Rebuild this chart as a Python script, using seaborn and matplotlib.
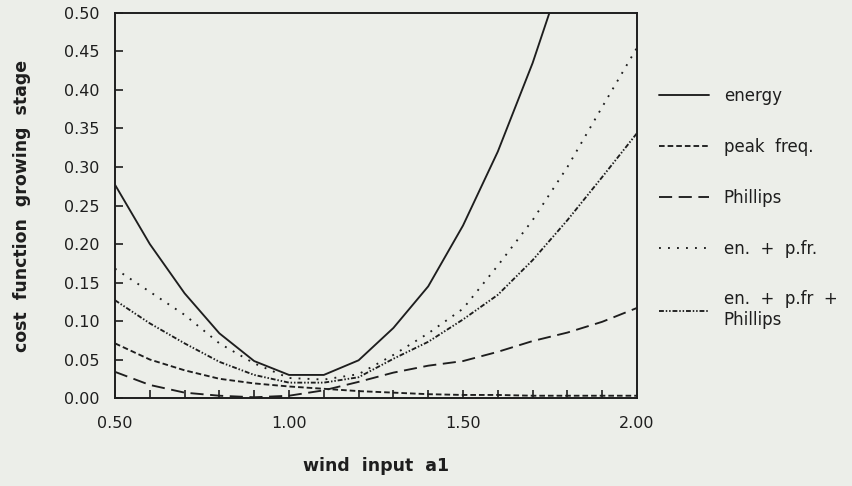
import numpy as np
import pandas as pd
import matplotlib
matplotlib.use("Agg")
import matplotlib.pyplot as plt
import seaborn as sns
from matplotlib.ticker import MultipleLocator

# wind input parameter a1
a1 = [0.5, 0.6, 0.7, 0.8, 0.9, 1.0, 1.1, 1.2, 1.3, 1.4, 1.5, 1.6, 1.7, 1.8, 1.9, 2.0]

# cost function values in the growing stage
energy = [0.277, 0.200, 0.136, 0.084, 0.048, 0.030, 0.030, 0.049, 0.091, 0.145,
          0.224, 0.320, 0.435, 0.570, np.nan, np.nan]
peak_freq = [0.071, 0.050, 0.036, 0.025, 0.019, 0.015, 0.012, 0.009, 0.007, 0.005,
             0.004, 0.004, 0.003, 0.003, 0.003, 0.003]
phillips = [0.034, 0.017, 0.007, 0.003, 0.001, 0.003, 0.010, 0.021, 0.033, 0.042,
            0.048, 0.060, 0.074, 0.085, 0.099, 0.117]
en_pfr = [0.168, 0.138, 0.108, 0.071, 0.045, 0.026, 0.024, 0.031, 0.056, 0.084,
          0.116, 0.172, 0.231, 0.300, 0.378, 0.455]
en_pfr_ph = [0.127, 0.097, 0.071, 0.047, 0.030, 0.020, 0.020, 0.027, 0.051, 0.073,
             0.102, 0.134, 0.179, 0.231, 0.287, 0.344]

labels = ["energy", "peak  freq.", "Phillips", "en.  +  p.fr.", "en.  +  p.fr  +\nPhillips"]
series = [energy, peak_freq, phillips, en_pfr, en_pfr_ph]
styles = [
    "-",
    (0, (3.0, 1.6)),
    (0, (7.0, 3.5)),
    (0, (1.0, 3.8)),
    (0, (2.6, 1.0, 0.8, 1.0, 0.8, 1.0)),
]

df = pd.DataFrame({"a1": a1})
for lab, vals in zip(labels, series):
    df[lab] = vals

sns.set_theme(style="ticks")
bg = "#eceee9"
ink = "#1e1e1e"
plt.rcParams["font.family"] = ["DejaVu Sans"]

fig = plt.figure(figsize=(8.53, 4.86), dpi=100, facecolor=bg)
ax = fig.add_axes([0.1348, 0.181, 0.612, 0.7923])
ax.set_facecolor(bg)

for lab, ls in zip(labels, styles):
    sns.lineplot(data=df, x="a1", y=lab, ax=ax, color=ink, linewidth=1.35,
                 linestyle=ls, label=lab)

ax.set_xlim(0.5, 2.0)
ax.set_ylim(0.0, 0.5)
ax.xaxis.set_major_locator(MultipleLocator(0.5))
ax.xaxis.set_minor_locator(MultipleLocator(0.1))
ax.yaxis.set_major_locator(MultipleLocator(0.05))
ax.xaxis.set_major_formatter(lambda v, p: f"{v:.2f}")
ax.yaxis.set_major_formatter(lambda v, p: f"{v:.2f}")
ax.tick_params(axis="both", which="both", direction="in", length=6, width=1.2,
               color=ink, labelcolor=ink, labelsize=11.5)
ax.tick_params(axis="x", which="both", top=False, pad=13)
ax.tick_params(axis="y", which="both", right=False, pad=11)
for sp in ax.spines.values():
    sp.set_visible(True)
    sp.set_color(ink)
    sp.set_linewidth(1.4)

ax.set_xlabel("wind  input  a1", fontsize=12.5, fontweight="bold", color=ink, labelpad=19)
ax.set_ylabel("cost  function  growing  stage", fontsize=12.5, fontweight="bold",
              color=ink, labelpad=24)

ax.legend(loc="upper left", bbox_to_anchor=(1.029, 0.825), frameon=False,
          fontsize=12, handlelength=3.0, handletextpad=0.9, labelspacing=1.97,
          labelcolor=ink, borderaxespad=0.0)

fig.savefig("out.png", dpi=100, facecolor=bg)
